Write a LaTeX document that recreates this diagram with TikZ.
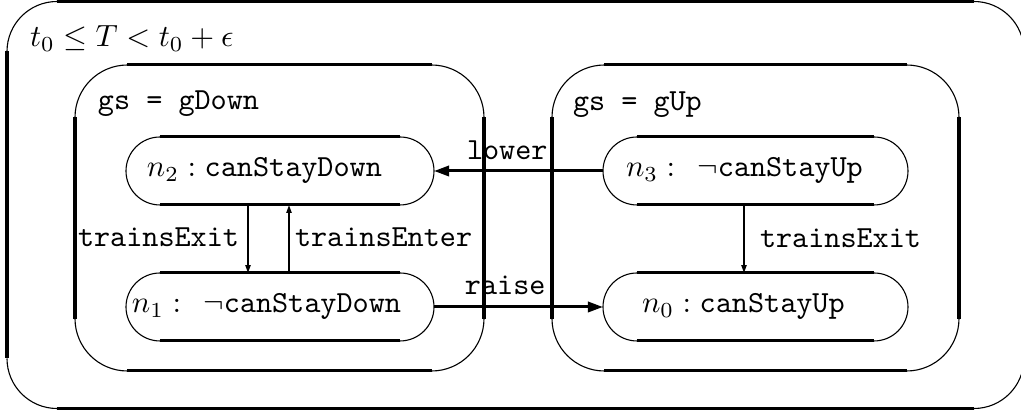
\documentclass[tikz,border=0pt]{standalone}
\usetikzlibrary{arrows.meta}
% one unit of length used throughout the picture
\def\pxu{0.326pt}
\tikzset{
  frame/.style={inner sep=0pt, outer sep=0pt, draw=none},
  edgeline/.style={line width=0.98pt},
  arcline/.style={line width=0.36pt},
  txt/.style={inner sep=0pt, outer sep=0pt, anchor=base west},
  bigarrow/.style={line width=0.98pt, -{Triangle[length=4.9pt, width=3.3pt]}},
  smallarrow/.style={line width=0.55pt, -{Triangle[length=2.6pt, width=1.7pt]}},
}
% rounded frame: heavy straight sides, light corner arcs
\newcommand\roundframe[2]{%
  \draw[edgeline] ([xshift=#2]#1.north west) -- ([xshift=-#2]#1.north east);
  \draw[edgeline] ([xshift=#2]#1.south west) -- ([xshift=-#2]#1.south east);
  \draw[edgeline] ([yshift=-#2]#1.north west) -- ([yshift=#2]#1.south west);
  \draw[edgeline] ([yshift=-#2]#1.north east) -- ([yshift=#2]#1.south east);
  \draw[arcline] ([xshift=#2]#1.north west) arc[start angle=90, end angle=180, radius=#2];
  \draw[arcline] ([xshift=-#2]#1.north east) arc[start angle=90, end angle=0, radius=#2];
  \draw[arcline] ([yshift=#2]#1.south west) arc[start angle=180, end angle=270, radius=#2];
  \draw[arcline] ([xshift=-#2]#1.south east) arc[start angle=270, end angle=360, radius=#2];
}
% state outline: heavy top and bottom, light semicircular ends
\newcommand\stateframe[1]{%
  \draw[edgeline] ([xshift=11.08pt]#1.north west) -- ([xshift=-11.08pt]#1.north east);
  \draw[edgeline] ([xshift=11.08pt]#1.south west) -- ([xshift=-11.08pt]#1.south east);
  \draw[arcline] ([xshift=11.08pt]#1.north west) arc[start angle=90, end angle=270, radius=11.08pt];
  \draw[arcline] ([xshift=-11.08pt]#1.north east) arc[start angle=90, end angle=-90, radius=11.08pt];
}
\begin{document}
\begin{tikzpicture}[x=0.326pt, y=-0.326pt]
  \fill[white] (0,0) rectangle (1021,412);
  \clip (0,0) rectangle (1021,412);

  % containers
  \node[frame, minimum width=1017*\pxu, minimum height=407*\pxu] (world) at (515.5,205) {};
  \node[frame, minimum width=409*\pxu, minimum height=306*\pxu] (gdownbox) at (279.5,218) {};
  \node[frame, minimum width=407*\pxu, minimum height=306*\pxu] (gupbox) at (755.5,218) {};
  \roundframe{world}{16.3pt}
  \roundframe{gdownbox}{17.1pt}
  \roundframe{gupbox}{17.1pt}

  % states
  \node[frame, minimum width=308*\pxu, minimum height=68*\pxu] (s2) at (280,171) {};
  \node[frame, minimum width=308*\pxu, minimum height=68*\pxu] (s1) at (280,307) {};
  \node[frame, minimum width=305*\pxu, minimum height=68*\pxu] (s3) at (755.5,171) {};
  \node[frame, minimum width=305*\pxu, minimum height=68*\pxu] (s0) at (755.5,307) {};
  \stateframe{s2}
  \stateframe{s1}
  \stateframe{s3}
  \stateframe{s0}

  % texts
  \node[txt] (cond) at (30,47) {$t_0 \leq T < t_0+\epsilon$};
  \node[txt] (gdown) at (98,110) {\texttt{gs = gDown}};
  \node[txt] (gup) at (573,111) {\texttt{gs = gUp}};
  \node[txt] (t2) at (147,177) {$n_2:\mathtt{canStayDown}$};
  \node[txt] (t1) at (132,313) {$n_1:\mskip8mu\neg\mathtt{canStayDown}$};
  \node[txt] (t3) at (626,177) {$n_3:\mskip8mu\neg\mathtt{canStayUp}$};
  \node[txt] (t0) at (642,313) {$n_0:\mathtt{canStayUp}$};

  % transitions
  \draw[bigarrow] (s3.west) -- (s2.east);
  \draw[bigarrow] (s1.east) -- (s0.west);
  \draw[smallarrow] (248,0 |- s2.south) -- (248,0 |- s1.north);
  \draw[smallarrow] (289,0 |- s1.north) -- (289,0 |- s2.south);
  \draw[smallarrow] (744,0 |- s3.south) -- (744,0 |- s0.north);

  \node[txt] (lowerlab) at (467,160) {\texttt{lower}};
  \node[txt] (raiselab) at (465,295) {\texttt{raise}};
  \node[txt] (exitdown) at (78,247) {\texttt{trainsExit}};
  \node[txt] (enterdown) at (295,247) {\texttt{trainsEnter}};
  \node[txt] (exitup) at (760,248) {\texttt{trainsExit}};
\end{tikzpicture}
\end{document}
